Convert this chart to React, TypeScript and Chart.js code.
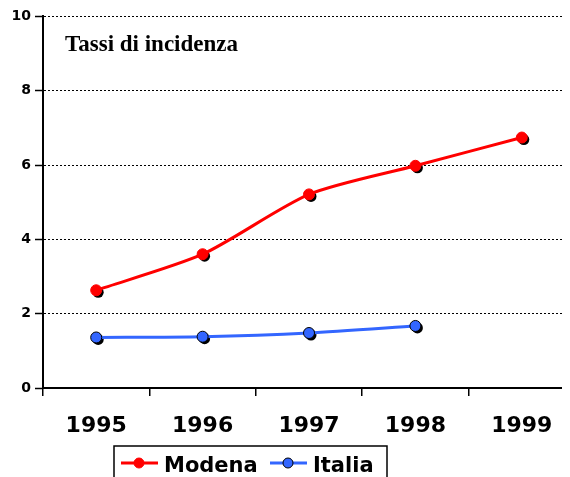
import React, { useEffect, useRef } from "react";
import { Chart, registerables } from "chart.js";

Chart.register(...registerables);

const categories = ["1995", "1996", "1997", "1998", "1999"];
const modena = [2.63, 3.6, 5.21, 5.98, 6.74];
const italia = [1.36, 1.38, 1.48, 1.67, null];
const yTicks = [0, 2, 4, 6, 8, 10];
const chartTitle = "Tassi di incidenza";
const seriesNames = ["Modena", "Italia"];

const RED = "#FF0000";
const BLUE = "#3366FF";

const shadowPlugin = {
  id: "pointShadow",
  beforeDatasetDraw(chart: any, args: any) {
    const meta = chart.getDatasetMeta(args.index);
    const ctx = chart.ctx;
    ctx.save();
    ctx.fillStyle = "#000";
    meta.data.forEach((pt: any, i: number) => {
      const v = chart.data.datasets[args.index].data[i];
      if (v === null || v === undefined) return;
      ctx.beginPath();
      ctx.arc(pt.x + 2, pt.y + 2, 5.5, 0, Math.PI * 2);
      ctx.fill();
    });
    ctx.restore();
  },
};

const decorPlugin = {
  id: "decor",
  afterDraw(chart: any) {
    const ctx = chart.ctx;
    const area = chart.chartArea;
    ctx.save();
    // title inside plot
    ctx.fillStyle = "#000";
    ctx.font = "bold 23px 'Liberation Serif', 'Times New Roman', serif";
    ctx.textBaseline = "alphabetic";
    ctx.textAlign = "left";
    ctx.fillText(chartTitle, area.left + 22, area.top + 35);

    // legend box
    const oy = -4;
    const boxL = 106, boxT = 446 + oy, boxR = 379, boxB = 484;
    ctx.strokeStyle = "#000";
    ctx.lineWidth = 1.5;
    ctx.strokeRect(boxL, boxT, boxR - boxL, boxB - boxT);

    const items = [
      { name: seriesNames[0], color: RED, border: RED, x: 113 },
      { name: seriesNames[1], color: BLUE, border: "#000", x: 262 },
    ];
    const cy = 463 + oy;
    ctx.font = "bold 21px 'DejaVu Sans', Verdana, sans-serif";
    ctx.textBaseline = "alphabetic";
    items.forEach((it) => {
      ctx.strokeStyle = it.color;
      ctx.lineWidth = 3;
      ctx.beginPath();
      ctx.moveTo(it.x, cy);
      ctx.lineTo(it.x + 37, cy);
      ctx.stroke();
      ctx.beginPath();
      ctx.arc(it.x + 18, cy, 5, 0, Math.PI * 2);
      ctx.fillStyle = it.color;
      ctx.fill();
      ctx.lineWidth = 1;
      ctx.strokeStyle = it.border;
      ctx.stroke();
      ctx.fillStyle = "#000";
      ctx.fillText(it.name, it.x + 43, 472 + oy);
    });
    ctx.restore();
  },
};

export default function App() {
  const ref = useRef<HTMLCanvasElement | null>(null);

  useEffect(() => {
    if (!ref.current) return;
    const chart = new Chart(ref.current, {
      type: "line",
      data: {
        labels: categories,
        datasets: [
          {
            label: seriesNames[0],
            data: modena,
            borderColor: RED,
            backgroundColor: RED,
            borderWidth: 3,
            pointRadius: 5.5,
            pointBackgroundColor: RED,
            pointBorderColor: RED,
            pointBorderWidth: 1,
            tension: 0.25,
            fill: false,
          },
          {
            label: seriesNames[1],
            data: italia,
            borderColor: BLUE,
            backgroundColor: BLUE,
            borderWidth: 3,
            pointRadius: 5.5,
            pointBackgroundColor: BLUE,
            pointBorderColor: "#000",
            pointBorderWidth: 1,
            tension: 0.25,
            fill: false,
          },
        ],
      },
      options: {
        responsive: false,
        animation: false,
        devicePixelRatio: 1,
        layout: { padding: { left: 0, right: 13, top: 0, bottom: 0 } },
        plugins: {
          legend: { display: false },
          title: { display: false },
          tooltip: { enabled: false },
        },
        scales: {
          x: {
            type: "category",
            offset: true,
            grid: {
              offset: true,
              drawOnChartArea: false,
              drawTicks: true,
              tickLength: 8,
              color: "#000",
              lineWidth: 1.5,
            },
            border: { display: true, color: "#000", width: 2 },
            ticks: {
              color: "#000",
              padding: 17,
              maxRotation: 0,
              font: { family: "'DejaVu Sans', Verdana, sans-serif", size: 22, weight: "bold" },
            },
            afterFit(scale: any) {
              scale.height = 106;
            },
          },
          y: {
            min: 0,
            max: 10,
            afterBuildTicks(scale: any) {
              scale.ticks = yTicks.map((v) => ({ value: v }));
            },
            grid: {
              color: "#000",
              lineWidth: 1,
              tickLength: 8,
              tickColor: "#000",
              tickWidth: 1.5,
              tickBorderDash: [],
            },
            border: { display: true, color: "#000", width: 2, dash: [2, 2] },
            ticks: {
              color: "#000",
              padding: 4,
              font: { family: "'DejaVu Sans', Verdana, sans-serif", size: 14, weight: "bold" },
            },
            afterFit(scale: any) {
              scale.width = 35;
            },
          },
        },
      },
      plugins: [shadowPlugin, decorPlugin],
    } as any);
    return () => chart.destroy();
  }, []);

  return (
    <div style={{ width: 562, height: 469, overflow: "hidden" }}>
      <canvas ref={ref} width={580} height={490} style={{ display: "block", marginTop: -4 }} />
    </div>
  );
}
